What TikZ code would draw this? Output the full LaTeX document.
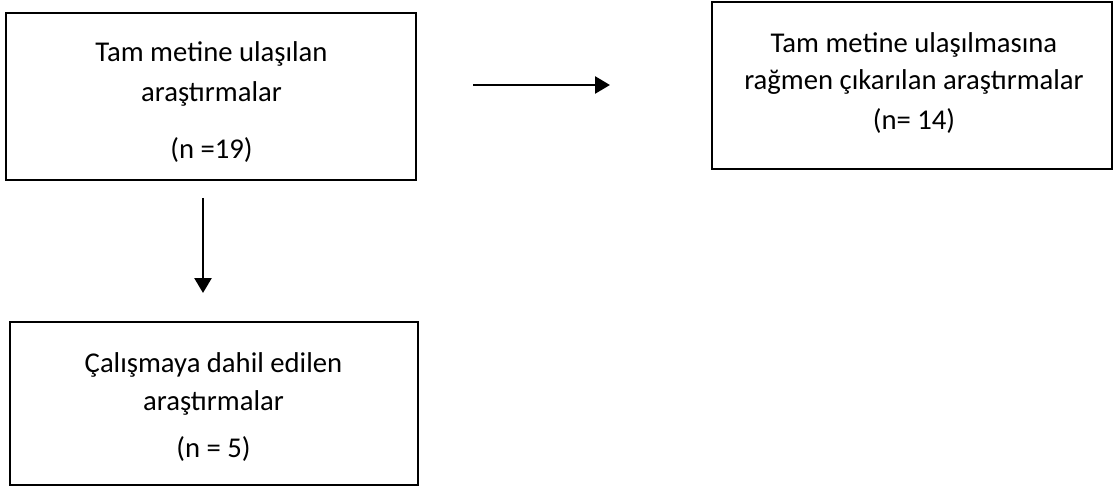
\documentclass[tikz,border=0pt]{standalone}
\usepackage{fontspec}
\setmainfont{Carlito}
\usetikzlibrary{arrows.meta}

\tikzset{
  box/.style={draw, line width=1.5pt, inner sep=0pt},
  txt/.style={anchor=base, inner sep=0pt, font=\fontsize{21.5}{26}\selectfont},
  flow/.style={line width=2pt, -{Triangle[length=11.25pt, width=12.75pt]}}
}

\begin{document}
\begin{tikzpicture}[x=0.75pt,y=0.75pt,yscale=-1,xscale=1]
\useasboundingbox (0,0) rectangle (1116,488);

% Boxes
\node (full) [box, minimum width=410*0.75pt, minimum height=167*0.75pt] at (211,96.5) {};
\node (excl) [box, minimum width=400*0.75pt, minimum height=167*0.75pt] at (912,85.5) {};
\node (incl) [box, minimum width=408*0.75pt, minimum height=163*0.75pt] at (214,403.5) {};

% Text Nodes
\node (fullA) [txt] at (211.5,62) {Tam metine ulaşılan};
\node (fullB) [txt] at (211.5,102) {araştırmalar};
\node (fullC) [txt] at (211.5,159) {(n =19)};
\node (exclA) [txt] at (914,53) {Tam metine ulaşılmasına};
\node (exclB) [txt] at (914,90) {rağmen çıkarılan araştırmalar};
\node (exclC) [txt] at (914,130) {(n= 14)};
\node (inclA) [txt] at (213.5,372) {Çalışmaya dahil edilen};
\node (inclB) [txt] at (213.5,410) {araştırmalar};
\node (inclC) [txt] at (213.5,457) {(n = 5)};

% Arrows
\coordinate (rightS) at (473,85);
\coordinate (rightE) at (610,85);
\coordinate (downS) at (203,198);
\coordinate (downE) at (203,293);
\draw [flow] (rightS) -- (rightE);
\draw [flow] (downS) -- (downE);

\end{tikzpicture}
\end{document}
